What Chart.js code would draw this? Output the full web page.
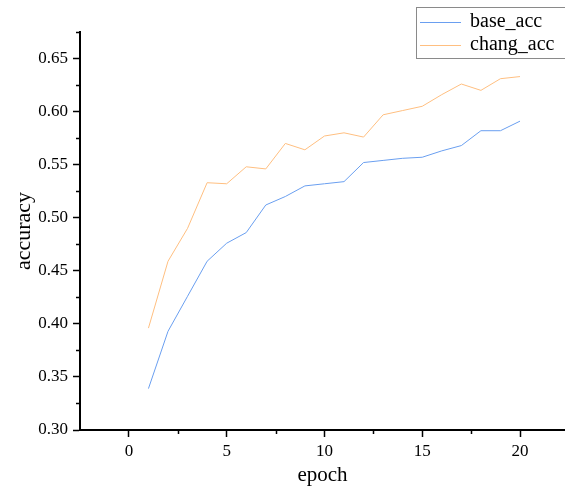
<!DOCTYPE html>
<html>
<head>
<meta charset="utf-8">
<script src="https://cdn.jsdelivr.net/npm/chart.js@4/dist/chart.umd.min.js"></script>
<style>
  body { margin: 0; background: #fff; }
  canvas { display: block; }
</style>
</head>
<body>
<canvas id="accChart" width="565" height="488"></canvas>
<script>
// accuracy per epoch
const epochs = [1, 2, 3, 4, 5, 6, 7, 8, 9, 10, 11, 12, 13, 14, 15, 16, 17, 18, 19, 20];
const baseAcc = [0.339, 0.393, 0.426, 0.459, 0.476, 0.486, 0.512, 0.520, 0.530, 0.532,
                 0.534, 0.552, 0.554, 0.556, 0.557, 0.563, 0.568, 0.582, 0.582, 0.591];
const changAcc = [0.396, 0.459, 0.490, 0.533, 0.532, 0.548, 0.546, 0.570, 0.564, 0.577,
                  0.580, 0.576, 0.597, 0.601, 0.605, 0.616, 0.626, 0.620, 0.631, 0.633];

const xTicks = [0, 5, 10, 15, 20];
const xMinorTicks = [2.5, 7.5, 12.5, 17.5];
const yTicks = [0.30, 0.35, 0.40, 0.45, 0.50, 0.55, 0.60, 0.65];
const yMinorTicks = [0.325, 0.375, 0.425, 0.475, 0.525, 0.575, 0.625, 0.675];

const FONT = "'Liberation Serif', 'DejaVu Serif', serif";
const BLUE = '#6a9ff0';
const ORANGE = '#ffbf80';

function toPoints(xs, ys) {
    return xs.map((x, i) => ({ x: x, y: ys[i] }));
}

// short outward ticks between the labelled ones
const minorTicks = {
    id: 'minorTicks',
    afterDraw(chart) {
        const ctx = chart.ctx;
        const xs = chart.scales.x;
        const ys = chart.scales.y;
        ctx.save();
        ctx.strokeStyle = '#000';
        ctx.lineWidth = 1.5;
        ctx.beginPath();
        xMinorTicks.forEach(v => {
            const px = Math.round(xs.getPixelForValue(v)) + 0.5;
            ctx.moveTo(px, xs.top);
            ctx.lineTo(px, xs.top + 4);
        });
        yMinorTicks.forEach(v => {
            const py = Math.round(ys.getPixelForValue(v)) + 0.5;
            ctx.moveTo(ys.right, py);
            ctx.lineTo(ys.right - 4, py);
        });
        ctx.stroke();
        ctx.restore();
    }
};

// boxed legend in the top right corner
const boxLegend = {
    id: 'boxLegend',
    afterDraw(chart) {
        const ctx = chart.ctx;
        ctx.save();
        ctx.strokeStyle = '#8a8a8a';
        ctx.lineWidth = 1;
        ctx.strokeRect(416.5, 7.5, 160, 51);
        ctx.font = '20px ' + FONT;
        ctx.textBaseline = 'middle';
        ctx.fillStyle = '#000';
        chart.data.datasets.forEach((ds, i) => {
            const y = 22 + i * 23;
            ctx.strokeStyle = ds.borderColor;
            ctx.lineWidth = 1;
            ctx.beginPath();
            ctx.moveTo(420, y + 0.5);
            ctx.lineTo(461, y + 0.5);
            ctx.stroke();
            ctx.fillText(ds.label, 470, y);
        });
        ctx.restore();
    }
};

new Chart(document.getElementById('accChart').getContext('2d'), {
    type: 'line',
    data: {
        datasets: [{
            label: 'base_acc',
            data: toPoints(epochs, baseAcc),
            borderColor: BLUE,
            borderWidth: 1,
            pointRadius: 0,
            tension: 0
        }, {
            label: 'chang_acc',
            data: toPoints(epochs, changAcc),
            borderColor: ORANGE,
            borderWidth: 1,
            pointRadius: 0,
            tension: 0
        }]
    },
    options: {
        responsive: false,
        animation: false,
        layout: { padding: { top: 32, right: 0, bottom: 0, left: 0 } },
        plugins: {
            legend: { display: false },
            tooltip: { enabled: false }
        },
        scales: {
            x: {
                type: 'linear',
                min: -2.5,
                max: 22.3,
                afterBuildTicks: scale => { scale.ticks = xTicks.map(v => ({ value: v })); },
                afterFit: scale => { scale.height = 58; },
                border: { display: true, color: '#000', width: 2 },
                grid: { drawOnChartArea: false, drawTicks: true, tickLength: 7, tickColor: '#000', tickWidth: 1.5 },
                ticks: {
                    color: '#000',
                    font: { family: FONT, size: 17 },
                    padding: 4,
                    maxRotation: 0,
                    callback: v => String(v)
                },
                title: {
                    display: true,
                    text: 'epoch',
                    color: '#000',
                    font: { family: FONT, size: 21 },
                    padding: { top: 0, bottom: 0 }
                }
            },
            y: {
                min: 0.30,
                max: 0.675,
                afterBuildTicks: scale => { scale.ticks = yTicks.map(v => ({ value: v })); },
                afterFit: scale => { scale.width = 80; },
                border: { display: true, color: '#000', width: 2 },
                grid: { drawOnChartArea: false, drawTicks: true, tickLength: 7, tickColor: '#000', tickWidth: 1.5 },
                ticks: {
                    color: '#000',
                    font: { family: FONT, size: 17 },
                    padding: 5,
                    callback: v => v.toFixed(2)
                },
                title: {
                    display: true,
                    text: 'accuracy',
                    color: '#000',
                    font: { family: FONT, size: 22 },
                    padding: { top: 11, bottom: 0 }
                }
            }
        }
    },
    plugins: [minorTicks, boxLegend]
});
</script>
</body>
</html>
